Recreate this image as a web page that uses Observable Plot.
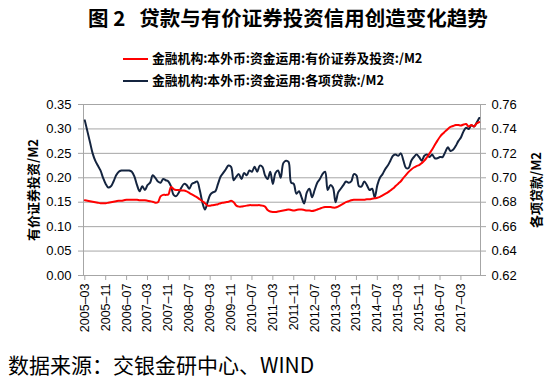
<!DOCTYPE html>
<html><head><meta charset="utf-8">
<script src="https://cdn.jsdelivr.net/npm/d3@7"></script>
<script src="https://cdn.jsdelivr.net/npm/@observablehq/plot@0.6"></script>
<style>
html,body{margin:0;padding:0;background:#fff;}
body{position:relative;width:550px;height:378px;overflow:hidden;font-family:"Noto Sans CJK SC","Noto Sans",sans-serif;color:#000;}
.abs{position:absolute;white-space:pre;}
#title{left:88px;top:3px;font-size:20.5px;font-weight:bold;line-height:28px;}
.leg{left:123px;font-size:12.8px;font-weight:bold;line-height:16px;height:16px;}
.sw{display:inline-block;width:25px;height:2px;vertical-align:middle;margin-right:4px;position:relative;top:-1px;}
#chart{left:0;top:95px;}
#caption{left:8px;top:351px;font-size:21px;line-height:27px;}
</style></head><body>
<div id="title" class="abs">图 2   贷款与有价证券投资信用创造变化趋势</div>
<div id="leg1" class="abs leg" style="top:50px"></div>
<div id="leg2" class="abs leg" style="top:72px"></div>
<div id="chart" class="abs"></div>
<div id="caption" class="abs">数据来源：交银金研中心、WIND</div>
<script>
// ---- data ----
const seriesNames = ["金融机构:本外币:资金运用:有价证券及投资:/M2", "金融机构:本外币:资金运用:各项贷款:/M2"];
const seriesColors = ["#ff0000", "#14243f"];
const leftAxisTitle = "有价证券投资/M2";
const rightAxisTitle = "各项贷款/M2";
const leftTicks = [0, 0.05, 0.10, 0.15, 0.20, 0.25, 0.30, 0.35];
const rightTicks = [0.62, 0.64, 0.66, 0.68, 0.70, 0.72, 0.74, 0.76];
const xTickLabels = ["2005-03","2005-11","2006-07","2007-03","2007-11","2008-07","2009-03","2009-11","2010-07","2011-03","2011-11","2012-07","2013-03","2013-11","2014-07","2015-03","2015-11","2016-07","2017-03"];
const months = d3.utcMonths(new Date(Date.UTC(2005,2,1)), new Date(Date.UTC(2017,9,2))).map(d3.utcFormat("%Y-%m"));
// 有价证券及投资/M2 (left axis), monthly 2005-03 .. 2017-10
const securities = [
0.154,0.153,0.152,0.151,0.150,0.149,0.148,0.148,
0.148,0.149,0.150,0.151,0.152,0.153,0.153,0.154,
0.155,0.155,0.155,0.155,0.155,0.154,0.154,0.154,
0.153,0.152,0.151,0.149,0.150,0.162,0.165,0.165,
0.166,0.181,0.177,0.175,0.175,0.174,0.174,0.172,
0.169,0.166,0.163,0.160,0.156,0.152,0.148,0.143,
0.143,0.144,0.145,0.146,0.148,0.149,0.150,0.151,
0.153,0.150,0.143,0.141,0.141,0.142,0.143,0.144,
0.144,0.144,0.144,0.144,0.143,0.141,0.134,0.131,
0.130,0.130,0.131,0.132,0.133,0.134,0.135,0.134,
0.133,0.134,0.135,0.135,0.134,0.133,0.133,0.132,
0.133,0.135,0.137,0.139,0.140,0.140,0.140,0.139,
0.139,0.141,0.144,0.147,0.150,0.152,0.154,0.155,
0.155,0.155,0.155,0.155,0.156,0.156,0.157,0.158,
0.159,0.161,0.164,0.167,0.170,0.174,0.178,0.183,
0.188,0.193,0.200,0.206,0.212,0.217,0.221,0.224,
0.226,0.230,0.235,0.242,0.250,0.258,0.267,0.276,
0.284,0.290,0.295,0.300,0.304,0.306,0.308,0.308,
0.307,0.309,0.310,0.305,0.308,0.305,0.311,0.314];
// 各项贷款/M2 (right axis), monthly 2005-03 .. 2017-10
const loans = [
0.747,0.738,0.729,0.720,0.714,0.710,0.706,0.700,
0.695,0.692,0.693,0.697,0.702,0.705,0.706,0.706,
0.706,0.706,0.705,0.701,0.694,0.689,0.693,0.690,
0.694,0.696,0.702,0.700,0.697,0.696,0.699,0.698,
0.697,0.693,0.686,0.685,0.688,0.692,0.695,0.694,
0.691,0.695,0.696,0.697,0.690,0.680,0.674,0.680,
0.686,0.688,0.689,0.695,0.701,0.704,0.707,0.710,
0.709,0.698,0.701,0.703,0.699,0.704,0.702,0.706,
0.705,0.709,0.705,0.710,0.709,0.702,0.699,0.705,
0.695,0.704,0.706,0.700,0.712,0.714,0.713,0.696,
0.695,0.687,0.689,0.684,0.679,0.688,0.691,0.684,
0.690,0.696,0.699,0.703,0.705,0.690,0.694,0.692,
0.680,0.688,0.691,0.694,0.697,0.696,0.697,0.703,
0.702,0.693,0.693,0.697,0.694,0.690,0.691,0.684,
0.694,0.700,0.703,0.707,0.710,0.714,0.718,0.719,
0.718,0.720,0.714,0.708,0.708,0.714,0.717,0.719,
0.717,0.714,0.718,0.719,0.717,0.719,0.716,0.716,
0.717,0.717,0.721,0.725,0.722,0.723,0.726,0.730,
0.733,0.738,0.741,0.740,0.743,0.742,0.745,0.749];

// ---- legend ----
[1,2].forEach((n,i)=>{
  const el = document.getElementById("leg"+n);
  el.innerHTML = `<span class="sw" style="background:${seriesColors[i]}"></span>${seriesNames[i]}`;
});

// ---- dual axis mapping (right values onto left scale) ----
const L0 = leftTicks[0], L1 = leftTicks[leftTicks.length-1];
const R0 = rightTicks[0], R1 = rightTicks[rightTicks.length-1];
const toLeft = v => L0 + (v - R0) / (R1 - R0) * (L1 - L0);
const toRight = v => R0 + (v - L0) / (L1 - L0) * (R1 - R0);

const secData = months.map((m,i)=>({m, v: securities[i]}));
const loanData = months.map((m,i)=>({m, v: toLeft(loans[i])}));

const plot = Plot.plot({
  width: 550, height: 250,
  marginLeft: 83, marginRight: 70, marginTop: 9, marginBottom: 70,
  style: {fontFamily: "'Liberation Sans', Arial, sans-serif", fontSize: "13px", color: "#000", background: "transparent"},
  x: {type: "point", domain: months, padding: 0.5},
  y: {domain: [L0, L1]},
  marks: [
    Plot.gridY(leftTicks, {stroke: "#a6a6a6", strokeOpacity: 1, strokeWidth: 1}),
    Plot.frame({stroke: "#a6a6a6", strokeWidth: 1}),
    Plot.axisY(leftTicks, {anchor: "left", tickFormat: d => d.toFixed(2), stroke: "#a6a6a6", fill: "#000", tickSize: 5, tickPadding: 7, label: null}),
    Plot.axisY(rightTicks.map(toLeft), {anchor: "right", tickFormat: d => toRight(d).toFixed(2), stroke: "#a6a6a6", fill: "#000", tickSize: 5, tickPadding: 6, label: null}),
    Plot.axisX(xTickLabels, {anchor: "bottom", tickRotate: -90, tickFormat: d => d.replace("-", "–"), stroke: "#a6a6a6", fill: "#000", tickSize: 5, tickPadding: 3, fontSize: 12.5, label: null}),
    Plot.text([leftAxisTitle], {frameAnchor: "left", dx: -50, rotate: -90, textAnchor: "middle", fontFamily: "'Noto Sans CJK SC'", fontWeight: "bold", fontSize: 13, fill: "#000", text: d => d}),
    Plot.text([rightAxisTitle], {frameAnchor: "right", dx: 56, rotate: -90, textAnchor: "middle", fontFamily: "'Noto Sans CJK SC'", fontWeight: "bold", fontSize: 13, fill: "#000", text: d => d}),
    Plot.line(loanData, {x: "m", y: "v", stroke: seriesColors[1], strokeWidth: 2, curve: "catmull-rom"}),
    Plot.line(secData, {x: "m", y: "v", stroke: seriesColors[0], strokeWidth: 2, curve: "catmull-rom"})
  ]
});
document.getElementById("chart").appendChild(plot);
</script>
</body></html>
